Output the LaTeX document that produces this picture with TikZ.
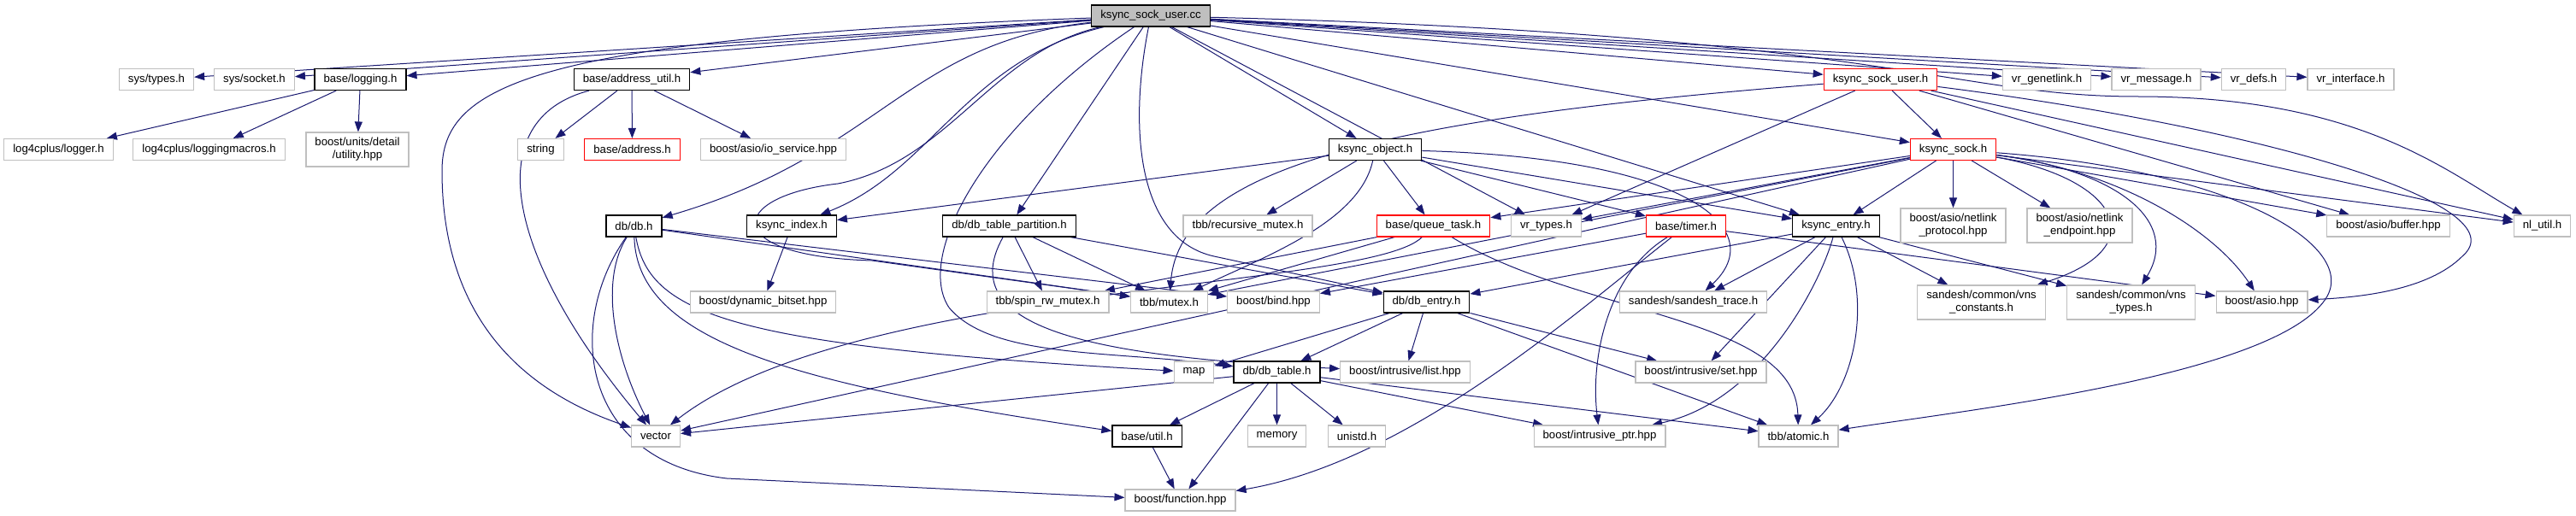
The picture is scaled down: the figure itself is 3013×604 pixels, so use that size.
\documentclass[tikz,border=0pt]{standalone}
\usepackage{fontspec}
\setmainfont{Liberation Sans}
\usetikzlibrary{arrows.meta}
\definecolor{edgc}{HTML}{191970}
\definecolor{extc}{HTML}{BFBFBF}
\definecolor{redc}{HTML}{FF0000}
\pgfdeclarelayer{background}
\pgfsetlayers{background,main}

\begin{document}
\begin{tikzpicture}[x=1pt, y=-1pt,
  file/.style={draw=extc, line width=1.2pt, fill=white, inner xsep=10.5pt, inner ysep=0pt,
               minimum height=25pt, align=center, font=\fontsize{13.2}{15}\selectfont},
  docf/.style={file, draw=black},
  redf/.style={file, draw=redc},
  root/.style={file, draw=black, fill=extc},
  tall/.style={minimum height=40pt},
  inc/.style={-{Triangle[length=12pt,width=9pt]}, draw=edgc, line width=1pt}]
\useasboundingbox (0,0) rectangle (3013,604);
% top row
\node[root] (cc) at (1346,18.5) {ksync\_sock\_user.cc};
\node[file] (systypes) at (183,93) {sys/types.h};
\node[file] (syssock) at (297.5,93) {sys/socket.h};
\node[docf] (logging) at (421.5,93) {base/logging.h};
\node[docf] (addrutil) at (739,93) {base/address\_util.h};
\node[redf] (ksockuser) at (2199.5,93) {ksync\_sock\_user.h};
\node[file] (genl) at (2394,93) {vr\_genetlink.h};
\node[file] (vrmsg) at (2522,93) {vr\_message.h};
\node[file] (vrdefs) at (2636,93) {vr\_defs.h};
\node[file] (vrintf) at (2749.5,93) {vr\_interface.h};
\node[file] (logger) at (68.5,175) {log4cplus/logger.h};
\node[file] (logmac) at (244.5,175) {log4cplus/loggingmacros.h};
\node[file, tall] (utility) at (418,175) {boost/units/detail\\/utility.hpp};
\node[file] (string) at (632.5,175) {string};
\node[redf] (address) at (739.5,175) {base/address.h};
\node[file] (iosvc) at (904.5,175) {boost/asio/io\_service.hpp};
\node[docf] (kobject) at (1608.5,175) {ksync\_object.h};
\node[redf] (ksock) at (2284.5,175) {ksync\_sock.h};
% middle rows
\node[docf] (dbh) at (741.5,264.5) {db/db.h};
\node[docf] (kindex) at (926,264.5) {ksync\_index.h};
\node[docf] (dbpart) at (1180.5,264.5) {db/db\_table\_partition.h};
\node[file] (recmutex) at (1459.5,264.5) {tbb/recursive\_mutex.h};
\node[redf] (qtask) at (1676.5,264.5) {base/queue\_task.h};
\node[file] (vrtypes) at (1808.5,264.5) {vr\_types.h};
\node[redf] (timer) at (1972,264.5) {base/timer.h};
\node[docf] (kentry) at (2147.5,264.5) {ksync\_entry.h};
\node[file, tall] (nlproto) at (2284.5,264) {boost/asio/netlink\\\_protocol.hpp};
\node[file, tall] (nlendpt) at (2432.5,264) {boost/asio/netlink\\\_endpoint.hpp};
\node[file] (buffer) at (2793.5,264.5) {boost/asio/buffer.hpp};
\node[file] (nlutil) at (2973.5,264.5) {nl\_util.h};
\node[file] (bitset) at (892.5,353.5) {boost/dynamic\_bitset.hpp};
\node[file] (spinrw) at (1225.5,353.5) {tbb/spin\_rw\_mutex.h};
\node[file] (mutex) at (1367.5,353.5) {tbb/mutex.h};
\node[file] (bind) at (1489.5,353.5) {boost/bind.hpp};
\node[docf] (dbentry) at (1668.5,353.5) {db/db\_entry.h};
\node[file] (strace) at (1980.5,353.5) {sandesh/sandesh\_trace.h};
\node[file, tall] (vnsconst) at (2317.5,354) {sandesh/common/vns\\\_constants.h};
\node[file, tall] (vnstypes) at (2492.5,354) {sandesh/common/vns\\\_types.h};
\node[file] (asio) at (2645.5,353.5) {boost/asio.hpp};
% bottom rows
\node[file] (map) at (1396.5,435.5) {map};
\node[docf] (dbtable) at (1493.5,435.5) {db/db\_table.h};
\node[file] (ilist) at (1643.5,435.5) {boost/intrusive/list.hpp};
\node[file] (iset) at (1989.5,435.5) {boost/intrusive/set.hpp};
\node[file] (vector) at (767,510.5) {vector};
\node[docf] (util) at (1341.5,510.5) {base/util.h};
\node[file] (memory) at (1493.5,510.5) {memory};
\node[file] (unistd) at (1587,510.5) {unistd.h};
\node[file] (iptr) at (1871,510.5) {boost/intrusive\_ptr.hpp};
\node[file] (atomic) at (2103.5,510.5) {tbb/atomic.h};
\node[file] (function) at (1380.5,585.5) {boost/function.hpp};
\begin{pgfonlayer}{background}
% straight includes
\path (cc) edge[inc] (systypes) edge[inc] (syssock) edge[inc] (logging) edge[inc] (addrutil)
  edge[inc] (ksockuser) edge[inc] (genl) edge[inc] (vrmsg) edge[inc] (vrdefs) edge[inc] (vrintf)
  edge[inc] (kobject) edge[inc] (vrtypes) edge[inc] (kentry) edge[inc] (ksock) edge[inc] (dbpart);
\path (logging) edge[inc] (logger) edge[inc] (logmac) edge[inc] (utility);
\path (addrutil) edge[inc] (string) edge[inc] (address) edge[inc] (iosvc);
\path (ksockuser) edge[inc] (ksock) edge[inc] (vrtypes) edge[inc] (nlutil) edge[inc] (buffer);
\path (ksock) edge[inc] (kentry) edge[inc] (nlproto) edge[inc] (nlendpt) edge[inc] (qtask)
  edge[inc] (vrtypes) edge[inc] (mutex) edge[inc] (vector) edge[inc] (buffer) edge[inc] (nlutil);
\path (kobject) edge[inc] (kindex) edge[inc] (recmutex) edge[inc] (qtask) edge[inc] (timer) edge[inc] (kentry);
\path (kindex) edge[inc] (bitset);
\path (dbh) edge[inc] (mutex) edge[inc] (bind);
\path (dbpart) edge[inc] (spinrw) edge[inc] (mutex) edge[inc] (dbentry);
\path (qtask) edge[inc] (spinrw) edge[inc] (mutex);
\path (timer) edge[inc] (bind) edge[inc] (asio);
\path (kentry) edge[inc] (dbentry) edge[inc] (strace) edge[inc] (iset) edge[inc] (vnsconst) edge[inc] (vnstypes);
\path (dbentry) edge[inc] (dbtable) edge[inc] (map) edge[inc] (ilist) edge[inc] (iset) edge[inc] (atomic);
\path (dbtable) edge[inc] (vector) edge[inc] (util) edge[inc] (function) edge[inc] (memory)
  edge[inc] (unistd) edge[inc] (iptr) edge[inc] (atomic);
\path (util) edge[inc] (function);
% curved includes
\draw[inc] (cc) .. controls (620,45) and (517,100) .. (517,200) .. controls (517,380) and (620,460) .. (vector);
\draw[inc] (cc) .. controls (1060,50) and (1030,180) .. (dbh);
\draw[inc] (cc) .. controls (1130,70) and (1090,200) .. (kindex);
\draw[inc] (cc) .. controls (1160,60) and (1110,190) .. (980,215) .. controls (850,230) and (840,300) .. (1020,305) -- (mutex);
\draw[inc] (cc) .. controls (1150,150) and (1070,300) .. (1110,360) .. controls (1160,420) and (1300,410) .. (dbtable);
\draw[inc] (cc) .. controls (1320,150) and (1330,280) .. (1420,300) -- (dbentry);
\draw[inc] (cc) .. controls (2200,40) and (2280,113) .. (2500,113) .. controls (2760,113) and (2860,200) .. (nlutil);
\draw[inc] (addrutil) .. controls (560,140) and (590,300) .. (vector);
\draw[inc] (ksockuser) .. controls (1600,140) and (1380,200) .. (mutex);
\draw[inc] (ksockuser) .. controls (2650,150) and (2950,240) .. (2880,300) .. controls (2840,340) and (2760,348) .. (asio);
\draw[inc] (ksock) .. controls (2480,200) and (2590,270) .. (asio);
\draw[inc] (ksock) .. controls (2480,210) and (2520,290) .. (vnsconst);
\draw[inc] (ksock) .. controls (2480,200) and (2550,260) .. (vnstypes);
\draw[inc] (ksock) .. controls (2620,200) and (2760,290) .. (2720,350) .. controls (2660,440) and (2300,480) .. (atomic);
\draw[inc] (kobject) .. controls (1590,260) and (1480,300) .. (mutex);
\draw[inc] (kobject) .. controls (1980,185) and (2070,270) .. (strace);
\draw[inc] (dbh) .. controls (700,330) and (720,420) .. (vector);
\draw[inc] (dbh) .. controls (760,370) and (860,405) .. (map);
\draw[inc] (dbh) .. controls (745,400) and (930,450) .. (util);
\draw[inc] (dbh) .. controls (660,380) and (680,540) .. (850,560) -- (function);
\draw[inc] (dbpart) .. controls (1110,390) and (1300,418) .. (ilist);
\draw[inc] (qtask) .. controls (1600,340) and (1000,330) .. (vector);
\draw[inc] (qtask) .. controls (1850,370) and (2100,370) .. (atomic);
\draw[inc] (timer) .. controls (1850,360) and (1650,540) .. (function);
\draw[inc] (timer) .. controls (1880,320) and (1860,420) .. (iptr);
\draw[inc] (kentry) .. controls (2130,330) and (2060,470) .. (iptr);
\draw[inc] (kentry) .. controls (2190,350) and (2170,450) .. (atomic);
\end{pgfonlayer}
\end{tikzpicture}
\end{document}
